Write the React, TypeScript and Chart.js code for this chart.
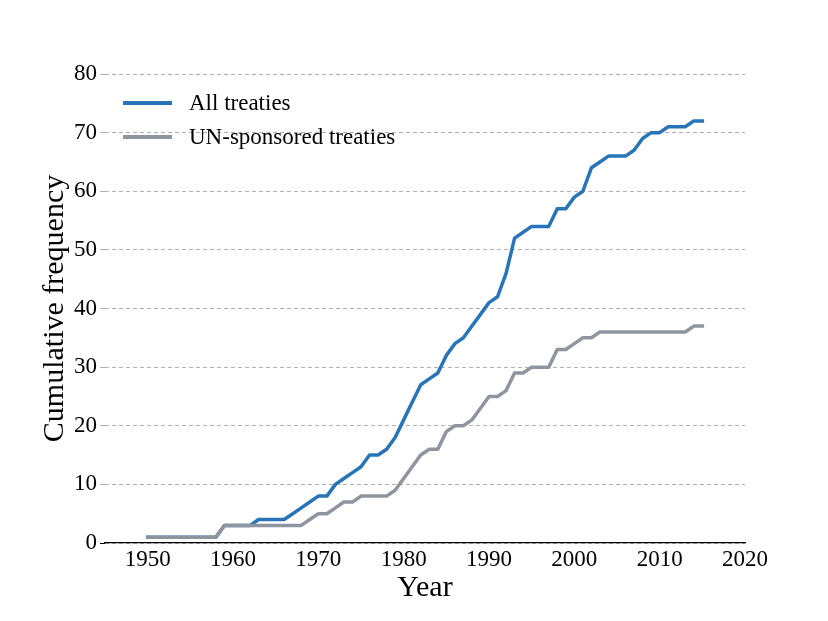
import React, { useEffect, useRef } from "react";
import { Chart, registerables } from "chart.js";

Chart.register(...registerables);

const years = [
  1950, 1951, 1952, 1953, 1954, 1955, 1956, 1957, 1958, 1959,
  1960, 1961, 1962, 1963, 1964, 1965, 1966, 1967, 1968, 1969,
  1970, 1971, 1972, 1973, 1974, 1975, 1976, 1977, 1978, 1979,
  1980, 1981, 1982, 1983, 1984, 1985, 1986, 1987, 1988, 1989,
  1990, 1991, 1992, 1993, 1994, 1995, 1996, 1997, 1998, 1999,
  2000, 2001, 2002, 2003, 2004, 2005, 2006, 2007, 2008, 2009,
  2010, 2011, 2012, 2013, 2014, 2015,
];

const allTreaties = [
  1, 1, 1, 1, 1, 1, 1, 1, 1, 3,
  3, 3, 3, 4, 4, 4, 4, 5, 6, 7,
  8, 8, 10, 11, 12, 13, 15, 15, 16, 18,
  21, 24, 27, 28, 29, 32, 34, 35, 37, 39,
  41, 42, 46, 52, 53, 54, 54, 54, 57, 57,
  59, 60, 64, 65, 66, 66, 66, 67, 69, 70,
  70, 71, 71, 71, 72, 72,
];

const unTreaties = [
  1, 1, 1, 1, 1, 1, 1, 1, 1, 3,
  3, 3, 3, 3, 3, 3, 3, 3, 3, 4,
  5, 5, 6, 7, 7, 8, 8, 8, 8, 9,
  11, 13, 15, 16, 16, 19, 20, 20, 21, 23,
  25, 25, 26, 29, 29, 30, 30, 30, 33, 33,
  34, 35, 35, 36, 36, 36, 36, 36, 36, 36,
  36, 36, 36, 36, 37, 37,
];

const xTicks = [1950, 1960, 1970, 1980, 1990, 2000, 2010, 2020];
const yTicks = [0, 10, 20, 30, 40, 50, 60, 70, 80];

const seriesNames = ["All treaties", "UN-sponsored treaties"];
const seriesColors = ["#2874b9", "#8f959f"];

const xTitle = "Year";
const yTitle = "Cumulative frequency";

const FONT = "'Liberation Serif', 'Times New Roman', serif";

export default function App() {
  const ref = useRef<HTMLCanvasElement>(null);

  useEffect(() => {
    document.body.style.margin = "0";
    const canvas = ref.current;
    if (!canvas) return;
    const chart = new Chart(canvas, {
      type: "line",
      data: {
        datasets: [
          {
            label: seriesNames[0],
            data: years.map((x, i) => ({ x, y: allTreaties[i] })),
            borderColor: seriesColors[0],
            backgroundColor: seriesColors[0],
            borderWidth: 3.5,
            pointRadius: 0,
            tension: 0,
            borderCapStyle: "square",
            borderJoinStyle: "round",
            order: 1,
          },
          {
            label: seriesNames[1],
            data: years.map((x, i) => ({ x, y: unTreaties[i] })),
            borderColor: seriesColors[1],
            backgroundColor: seriesColors[1],
            borderWidth: 3.5,
            pointRadius: 0,
            tension: 0,
            borderCapStyle: "square",
            borderJoinStyle: "round",
            order: 0,
          },
        ],
      },
      options: {
        responsive: false,
        animation: false,
        layout: { padding: { left: 0, top: 74, right: 83, bottom: 0 } },
        plugins: {
          legend: { display: false },
          tooltip: { enabled: false },
        },
        scales: {
          x: {
            type: "linear",
            min: 1945,
            max: 2020,
            afterBuildTicks: (s: any) => {
              s.ticks = xTicks.map((v) => ({ value: v }));
            },
            afterFit: (s: any) => {
              s.height = 78;
            },
            grid: { display: false, drawTicks: false },
            border: { display: true, color: "#000", width: 1.2 },
            ticks: {
              font: { size: 23, family: FONT },
              color: "#000",
              padding: 3,
              maxRotation: 0,
              autoSkip: false,
              callback: (v: any) => String(v),
            },
            title: {
              display: true,
              text: xTitle,
              font: { size: 30, family: FONT },
              color: "#000",
              padding: { top: 0, bottom: 15 },
            },
          },
          y: {
            type: "linear",
            min: 0,
            max: 80,
            afterBuildTicks: (s: any) => {
              s.ticks = yTicks.map((v) => ({ value: v }));
            },
            afterFit: (s: any) => {
              s.width = 105;
            },
            grid: {
              color: "#b0b0b0",
              lineWidth: 1,
              drawTicks: true,
              tickLength: 5,
              tickColor: (c: any) => (c.tick && c.tick.value === 0 ? "#000" : "#b0b0b0"),
            },
            border: { display: false, dash: [4, 3] },
            ticks: {
              font: { size: 23, family: FONT },
              color: "#000",
              padding: 3,
              callback: (v: any) => String(v),
            },
            title: {
              display: true,
              text: yTitle,
              font: { size: 30, family: FONT },
              color: "#000",
              padding: { top: 37, bottom: 0 },
            },
          },
        },
      },
    });
    return () => chart.destroy();
  }, []);

  const legendRows = [103, 137];

  return (
    <div style={{ position: "relative", width: 828, height: 621 }}>
      <canvas ref={ref} width={828} height={621} style={{ width: 828, height: 621, display: "block" }} />
      {seriesNames.map((name, i) => (
        <div
          key={name}
          style={{
            position: "absolute",
            left: 123,
            top: legendRows[i] - 15,
            height: 30,
            display: "flex",
            alignItems: "center",
            fontFamily: FONT,
            fontSize: 23,
            color: "#000",
            whiteSpace: "nowrap",
          }}
        >
          <span style={{ display: "inline-block", width: 49, height: 4, background: seriesColors[i], marginRight: 17 }} />
          <span>{name}</span>
        </div>
      ))}
    </div>
  );
}
